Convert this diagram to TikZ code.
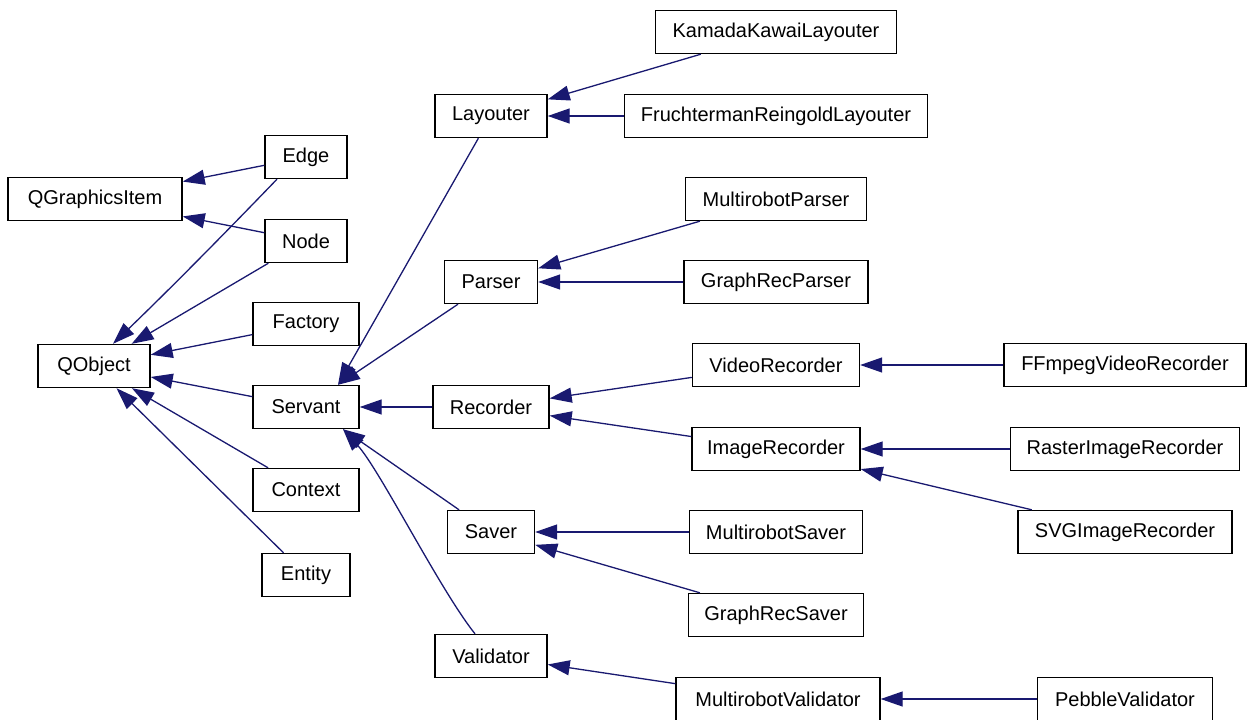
\documentclass[tikz,border=0pt]{standalone}
\usepackage{fontspec}
\setmainfont{Liberation Sans}
\usepackage{tikz}
\usetikzlibrary{arrows.meta}
\definecolor{inhblue}{HTML}{191970}

\begin{document}
\begin{tikzpicture}[x=1pt,y=-1pt,>={Triangle[length=22pt,width=15pt,fill=inhblue]},
  cls/.style={draw,line width=1.4pt,fill=white,minimum height=43pt,inner sep=0pt,font=\fontsize{20}{24}\selectfont},
  inh/.style={->,draw=inhblue,line width=1.3pt}]
  \useasboundingbox (0,0) rectangle (1248,720);
  % left column
  \node[cls,minimum width=174] (qgi) at (95,199) {QGraphicsItem};
  \node[cls,minimum width=112] (qobj) at (94,366) {QObject};
  \node[cls,minimum width=82] (edge) at (306,157) {Edge};
  \node[cls,minimum width=82] (node) at (306,241) {Node};
  \node[cls,minimum width=106] (factory) at (306,324) {Factory};
  \node[cls,minimum width=106] (servant) at (306,407) {Servant};
  \node[cls,minimum width=106] (context) at (306,490) {Context};
  \node[cls,minimum width=88] (entity) at (306,575) {Entity};
  % servant subclasses
  \node[cls,minimum width=112] (layouter) at (491,116) {Layouter};
  \node[cls,minimum width=93] (parser) at (491,282) {Parser};
  \node[cls,minimum width=116] (recorder) at (491,407) {Recorder};
  \node[cls,minimum width=87] (saver) at (491,532) {Saver};
  \node[cls,minimum width=112] (validator) at (491,656) {Validator};
  % third column
  \node[cls,minimum width=241] (kk) at (776,32) {KamadaKawaiLayouter};
  \node[cls,minimum width=303] (fr) at (776,116) {FruchtermanReingoldLayouter};
  \node[cls,minimum width=181] (mparser) at (776,199) {MultirobotParser};
  \node[cls,minimum width=184] (grparser) at (776,282) {GraphRecParser};
  \node[cls,minimum width=167] (vrec) at (776,365) {VideoRecorder};
  \node[cls,minimum width=168] (irec) at (776,449) {ImageRecorder};
  \node[cls,minimum width=173] (msaver) at (776,532) {MultirobotSaver};
  \node[cls,minimum width=175] (grsaver) at (776,615) {GraphRecSaver};
  \node[cls,minimum width=204] (mvalid) at (778,699) {MultirobotValidator};
  % last column
  \node[cls,minimum width=242] (ffrec) at (1125,365) {FFmpegVideoRecorder};
  \node[cls,minimum width=229] (rirec) at (1125,449) {RasterImageRecorder};
  \node[cls,minimum width=214] (svgrec) at (1125,532) {SVGImageRecorder};
  \node[cls,minimum width=175] (pvalid) at (1125,699) {PebbleValidator};

  \draw[inh] (edge) -- (qgi);
  \draw[inh] (node) -- (qgi);
  \draw[inh] ([xshift=-29]edge.south) .. controls (228,230) and (173,286) .. ([xshift=19]qobj.north);
  \draw[inh] (node) -- (qobj);
  \draw[inh] (factory) -- (qobj);
  \draw[inh] (servant) -- (qobj);
  \draw[inh] (context) -- (qobj);
  \draw[inh] (entity) -- (qobj);
  \draw[inh] (layouter) -- ([xshift=32]servant.north);
  \draw[inh] (parser) -- ([xshift=32]servant.north);
  \draw[inh] (recorder) -- (servant);
  \draw[inh] (saver) -- ([xshift=37]servant.south);
  \draw[inh] ([xshift=-16]validator.north) .. controls (440,590) and (380,470) .. ([xshift=37]servant.south);
  \draw[inh] (kk) -- (layouter);
  \draw[inh] (fr) -- (layouter);
  \draw[inh] (mparser) -- (parser);
  \draw[inh] (grparser) -- (parser);
  \draw[inh] (vrec) -- (recorder);
  \draw[inh] (irec) -- (recorder);
  \draw[inh] (msaver) -- (saver);
  \draw[inh] (grsaver) -- (saver);
  \draw[inh] (mvalid) -- (validator);
  \draw[inh] (ffrec) -- (vrec);
  \draw[inh] (rirec) -- (irec);
  \draw[inh] (svgrec) -- (irec);
  \draw[inh] (pvalid) -- (mvalid);
\end{tikzpicture}
\end{document}
